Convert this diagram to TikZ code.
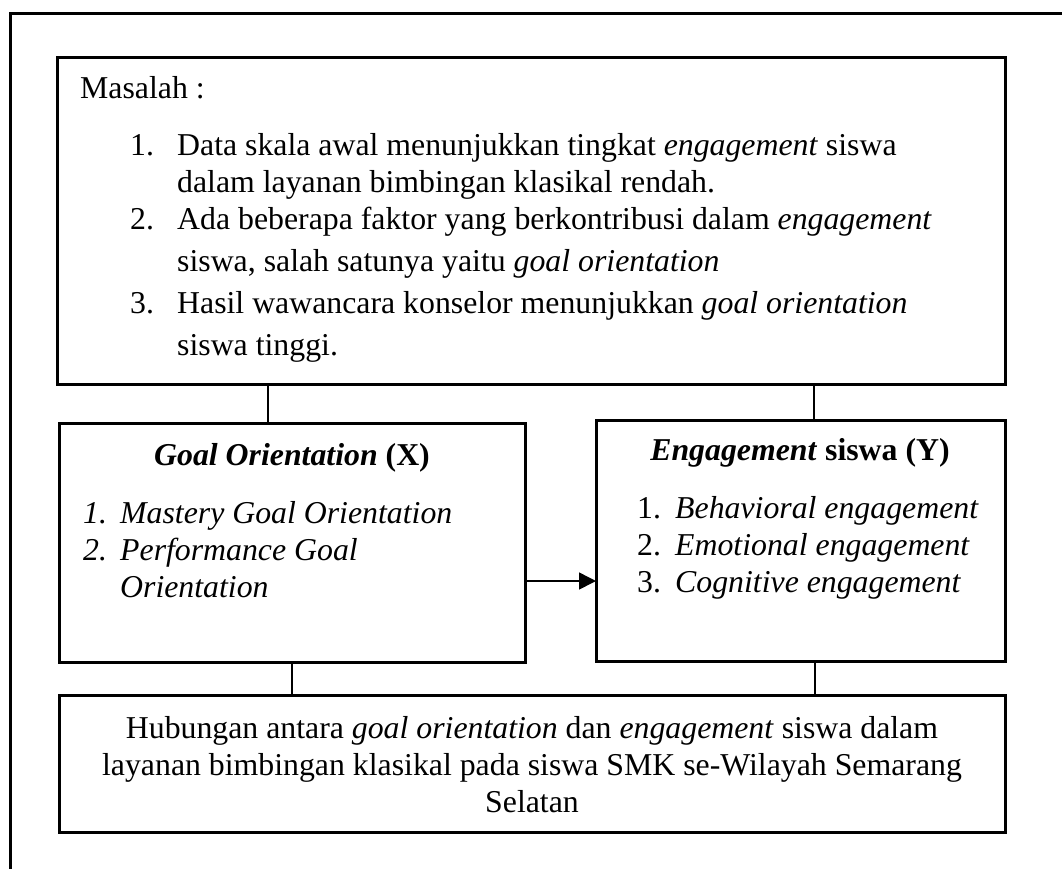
\documentclass[tikz,border=0pt]{standalone}
\usepackage{fontspec}
\setmainfont{Liberation Serif}
\usetikzlibrary{arrows.meta}
\begin{document}
\begin{tikzpicture}[x=1pt,y=-1pt,
  box/.style={draw, line width=3pt, rectangle, inner sep=0pt, outer sep=0pt},
  txt/.style={anchor=base west, inner sep=0pt, font=\fontsize{31.8}{37}\selectfont},
  ctxt/.style={anchor=base, inner sep=0pt, font=\fontsize{31.8}{37}\selectfont},
  link/.style={line width=1.5pt}]
\useasboundingbox (0,0) rectangle (1062,868);
% outer frame (cut off at right and bottom)
\draw[line width=3pt] (10,880) -- (10,13) -- (1075,13);
% boxes
\node[box, minimum width=948pt, minimum height=327pt] (top) at (531,220.5) {};
\node[box, minimum width=466pt, minimum height=239pt] (goal) at (292,542.5) {};
\node[box, minimum width=409pt, minimum height=241pt] (eng) at (800.5,540.5) {};
\node[box, minimum width=946pt, minimum height=137pt] (hub) at (532,763.5) {};
% connectors
\coordinate (c1) at (268,0);
\coordinate (c2) at (814,0);
\coordinate (c3) at (292,0);
\coordinate (c4) at (815,0);
\coordinate (ar) at (0,581);
\draw[link] (top.south -| c1) -- (goal.north -| c1);
\draw[link] (top.south -| c2) -- (eng.north -| c2);
\draw[link] (goal.south -| c3) -- (hub.north -| c3);
\draw[link] (eng.south -| c4) -- (hub.north -| c4);
\draw[link, -{Triangle[length=17pt,width=17pt]}] (goal.east |- ar) -- (eng.west |- ar);
% top box text
\node[txt] (m0) at (80,98) {Masalah :};
\node[txt] (n1) at (130,155) {1.};
\node[txt] (m1) at (177,155) {Data skala awal menunjukkan tingkat \textit{engagement} siswa};
\node[txt] (m2) at (177,192) {dalam layanan bimbingan klasikal rendah.};
\node[txt] (n2) at (130,229) {2.};
\node[txt] (m3) at (177,229) {Ada beberapa faktor yang berkontribusi dalam \textit{engagement}};
\node[txt] (m4) at (177,271) {siswa, salah satunya yaitu \textit{goal orientation}};
\node[txt] (n3) at (130,313) {3.};
\node[txt] (m5) at (177,313) {Hasil wawancara konselor menunjukkan \textit{goal orientation}};
\node[txt] (m6) at (177,355) {siswa tinggi.};
% left box text
\node[ctxt] (gt) at (292,465) {\textbf{\textit{Goal Orientation} (X)}};
\node[txt] (gn1) at (83,523) {\textit{1.}};
\node[txt] (g1) at (120,523) {\textit{Mastery Goal Orientation}};
\node[txt] (gn2) at (83,560) {\textit{2.}};
\node[txt] (g2) at (120,560) {\textit{Performance Goal}};
\node[txt] (g3) at (120,597) {\textit{Orientation}};
% right box text
\node[ctxt] (et) at (800,460) {\textbf{\textit{Engagement} siswa (Y)}};
\node[txt] (en1) at (637,518) {1.};
\node[txt] (e1) at (675,518) {\textit{Behavioral engagement}};
\node[txt] (en2) at (637,555) {2.};
\node[txt] (e2) at (675,555) {\textit{Emotional engagement}};
\node[txt] (en3) at (637,592) {3.};
\node[txt] (e3) at (675,592) {\textit{Cognitive engagement}};
% bottom box text
\node[ctxt] (h1) at (532,738) {Hubungan antara \textit{goal orientation} dan \textit{engagement} siswa dalam};
\node[ctxt] (h2) at (532,775) {layanan bimbingan klasikal pada siswa SMK se-Wilayah Semarang};
\node[ctxt] (h3) at (532,812) {Selatan};
\end{tikzpicture}
\end{document}
